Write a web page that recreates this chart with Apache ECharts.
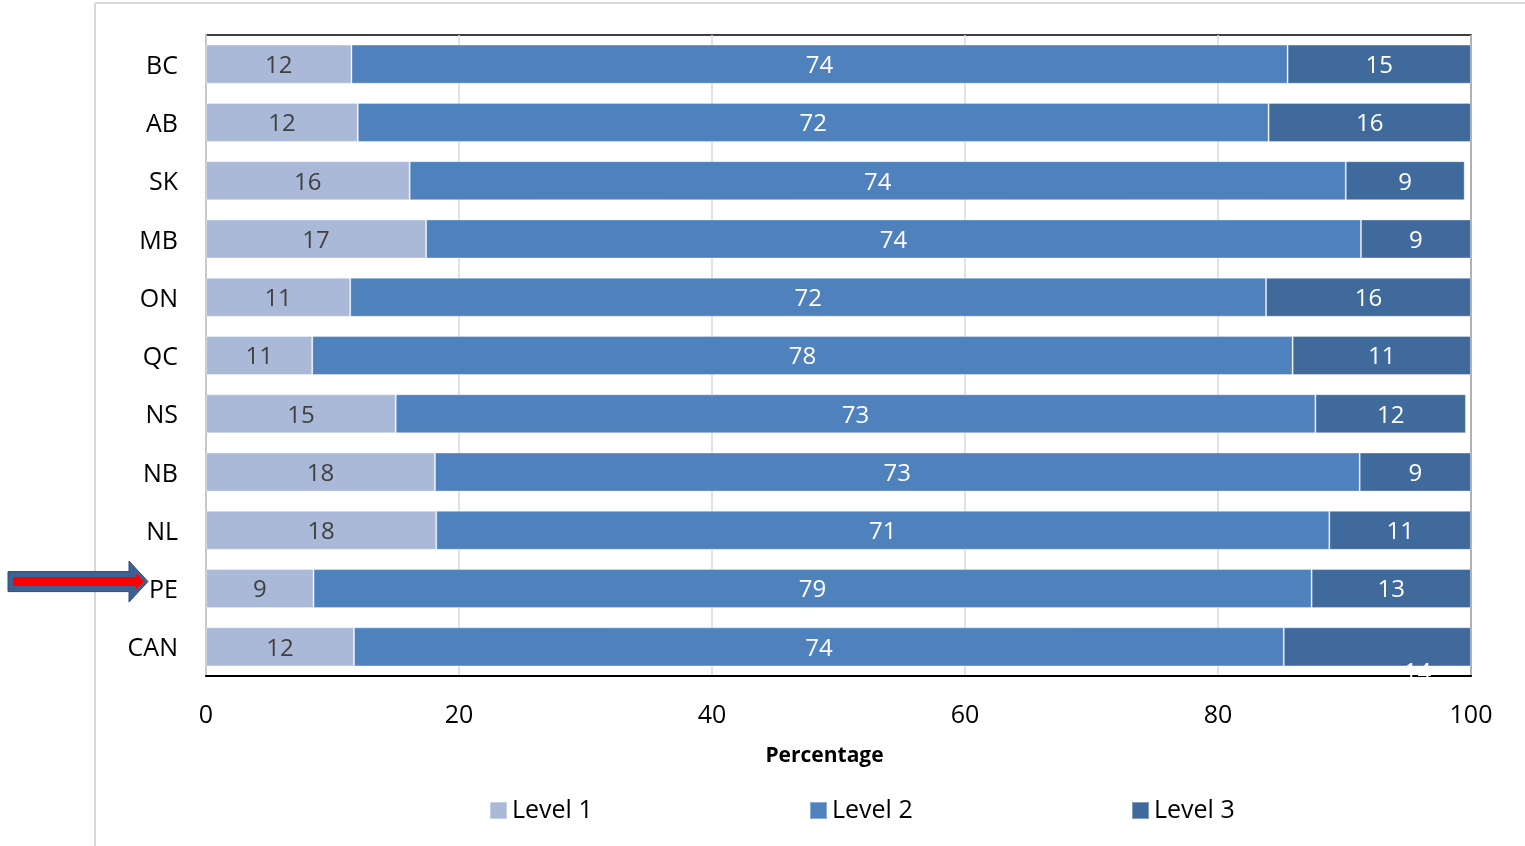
<!DOCTYPE html>
<html>
<head>
<meta charset="utf-8">
<script src="https://cdn.jsdelivr.net/npm/echarts@6/dist/echarts.min.js"></script>
<style>html,body{margin:0;padding:0;background:#fff;}#c{width:1525px;height:846px;}</style>
</head>
<body>
<div id="c"></div>
<script>
// Categories (top to bottom)
const categories = ['BC','AB','SK','MB','ON','QC','NS','NB','NL','PE','CAN'];
// Bar lengths as drawn in the picture (percent)
const level1 = [11.5, 12.0, 16.1, 17.4, 11.4, 8.4, 15.0, 18.1, 18.2, 8.5, 11.7];
const level2 = [74.0, 72.0, 74.0, 73.9, 72.4, 77.5, 72.7, 73.1, 70.6, 78.9, 73.5];
const level3 = [14.5, 16.0, 9.4, 8.7, 16.2, 14.1, 11.9, 8.8, 11.2, 12.6, 14.8];
// Printed data labels
const label1 = [12, 12, 16, 17, 11, 11, 15, 18, 18, 9, 12];
const label2 = [74, 72, 74, 74, 72, 78, 73, 73, 71, 79, 74];
const label3 = [15, 16, 9, 9, 16, 11, 12, 9, 11, 13, 14];
const seriesNames = ['Level 1','Level 2','Level 3'];
const xTicks = [0, 20, 40, 60, 80, 100];

const colors = ['#AAB9D7', '#4F81BD', '#406A9C'];
const FONT = '"Open Sans", sans-serif';
const labelSets = [label1, label2, label3];
const valueSets = [level1, level2, level3];

const chart = echarts.init(document.getElementById('c'));

const series = valueSets.map((vals, si) => ({
  name: seriesNames[si],
  type: 'bar',
  stack: 'total',
  barWidth: '67%',
  itemStyle: { color: colors[si], borderColor: 'rgba(255,255,255,0.35)', borderWidth: 1 },
  label: {
    show: true,
    position: 'inside',
    offset: [0, 2],
    fontFamily: FONT,
    fontSize: 24,
    color: si === 0 ? '#404040' : '#ffffff',
    formatter: p => String(labelSets[si][p.dataIndex])
  },
  data: vals.map((v, i) => {
    if (si === 2 && categories[i] === 'CAN') {
      return { value: v, label: { offset: [40, 26] } };
    }
    return v;
  })
}));

const legends = seriesNames.map((n, i) => ({
  data: [n],
  left: [484, 804, 1126][i],
  top: 793,
  itemWidth: 17,
  itemHeight: 17,
  icon: 'rect',
  textStyle: { fontFamily: FONT, fontSize: 25, color: '#000' }
}));

chart.setOption({
  animation: false,
  backgroundColor: '#fff',
  grid: { left: 206, right: 54, top: 35, bottom: 170, show: true, borderColor: '#000', borderWidth: 1.5 },
  legend: legends,
  xAxis: {
    type: 'value', min: 0, max: 100, interval: 20,
    name: 'Percentage', nameLocation: 'middle', nameGap: 70,
    nameTextStyle: { fontFamily: FONT, fontSize: 21, fontWeight: 'bold', color: '#000', padding: [0, 28, 0, 0] },
    axisLine: { show: true, lineStyle: { color: '#000', width: 2 } },
    axisTick: { show: false },
    axisLabel: { fontFamily: FONT, fontSize: 25, color: '#000', margin: 27,
      formatter: v => xTicks.includes(v) ? String(v) : '' },
    splitLine: { show: true, lineStyle: { color: '#D9D9D9', width: 1.5 } }
  },
  yAxis: {
    type: 'category', data: categories, inverse: true,
    axisLine: { show: true, lineStyle: { color: '#C8C8C8', width: 2 } },
    axisTick: { show: false },
    axisLabel: {
      margin: 28,
      formatter: v => '{c|' + v + '}',
      rich: { c: { fontFamily: FONT, fontSize: 25, color: '#000', padding: [5, 0, 0, 0] } }
    }
  },
  series: series
});

// Decorations: page frame and the arrow pointing at PE
const peY = chart.convertToPixel({ yAxisIndex: 0 }, 'PE') - 7;
const tipX = 148;
chart.setOption({
  graphic: [
    { type: 'line', shape: { x1: 95, y1: 3, x2: 95, y2: 846 }, style: { stroke: '#D9D9D9', lineWidth: 2 }, silent: true },
    { type: 'line', shape: { x1: 95, y1: 3, x2: 1525, y2: 3 }, style: { stroke: '#D9D9D9', lineWidth: 2 }, silent: true },
    { type: 'polygon', z: 100, silent: true,
      shape: { points: [[8, peY - 10], [tipX - 19, peY - 10], [tipX - 19, peY - 20.5], [tipX, peY], [tipX - 19, peY + 20.5], [tipX - 19, peY + 10], [8, peY + 10]] },
      style: { fill: '#3D6193', stroke: '#2F4F7F', lineWidth: 1 } },
    { type: 'polygon', z: 101, silent: true,
      shape: { points: [[13, peY - 4.5], [tipX - 12, peY - 4.5], [tipX - 12, peY - 8], [tipX - 4, peY], [tipX - 12, peY + 8], [tipX - 12, peY + 4.5], [13, peY + 4.5]] },
      style: { fill: '#FF0000' } }
  ]
});
</script>
</body>
</html>
